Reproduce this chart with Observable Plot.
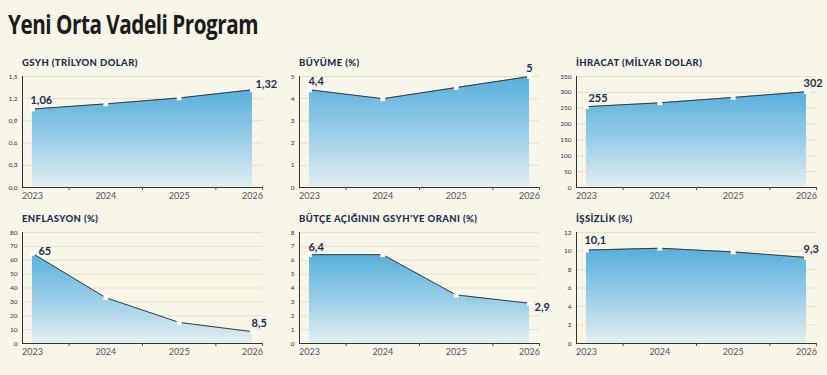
<!DOCTYPE html>
<html><head><meta charset="utf-8">
<script src="https://cdn.jsdelivr.net/npm/d3@7"></script>
<script src="https://cdn.jsdelivr.net/npm/@observablehq/plot@0.6"></script>
<style>
body{margin:0;background:#f8f5e9;}
#root{position:relative;width:827px;height:375px;background:#f8f5e9;overflow:hidden;font-family:Lato,"Open Sans",sans-serif;}
#title{position:absolute;left:8px;top:5px;font-family:"Open Sans",Roboto,sans-serif;font-weight:700;font-size:27px;color:#1b1b1b;letter-spacing:-0.6px;white-space:nowrap;transform-origin:0 50%;}
.panel{position:absolute;width:277px;height:150px;}
.ptitle{position:absolute;left:22px;top:2px;line-height:12px;font-weight:900;font-size:9.5px;color:#1f2d4d;letter-spacing:0.4px;white-space:nowrap}
.panel svg{position:absolute;left:0;top:13px;}
</style>
</head><body>
<div id="root"><div id="title">Yeni Orta Vadeli Program</div></div>
<script>
const years = [2023, 2024, 2025, 2026];
const gsyh = [1.06, 1.13, 1.21, 1.32];
const buyume = [4.4, 4.0, 4.5, 5.0];
const ihracat = [255, 267, 284, 302];
const enflasyon = [65, 33, 15.2, 8.5];
const butce = [6.4, 6.4, 3.5, 2.9];
const issizlik = [10.1, 10.3, 9.9, 9.3];
const titles = ["GSYH (TRİLYON DOLAR)", "BÜYÜME (%)", "İHRACAT (MİLYAR DOLAR)", "ENFLASYON (%)", "BÜTÇE AÇIĞININ GSYH’YE ORANI (%)", "İŞSİZLİK (%)"];
const yTicks = [
  [0, 0.3, 0.6, 0.9, 1.2, 1.5],
  [0, 1, 2, 3, 4, 5],
  [0, 50, 100, 150, 200, 250, 300, 350],
  [0, 10, 20, 30, 40, 50, 60, 70, 80],
  [0, 1, 2, 3, 4, 5, 6, 7, 8],
  [0, 2, 4, 6, 8, 10, 12]
];
const series = [gsyh, buyume, ihracat, enflasyon, butce, issizlik];

// layout / style (not data)
const pos = [[0,55],[277,55],[554,55],[0,211],[277,211],[554,211]];
const labelStyle = [
  [{dx:-2,dy:-9,a:"start"},{dx:3,dy:-5,a:"start"}],
  [{dx:-1,dy:-8,a:"start"},{dx:0,dy:-8,a:"middle"}],
  [{dx:2,dy:-8,a:"start"},{dx:-3,dy:-8,a:"start"}],
  [{dx:6,dy:-2,a:"start"},{dx:-1,dy:-8,a:"start"}],
  [{dx:-1,dy:-7,a:"start"},{dx:5,dy:4,a:"start"}],
  [{dx:-2,dy:-10,a:"start"},{dx:-3,dy:-8,a:"start"}]
];
const comma = v => String(v).replace(".", ",");
const xDom = [2022.864, 2026.136];
const root = document.getElementById("root");

// condense the main title to the reference width
const titleEl = document.getElementById("title");
const tw = titleEl.getBoundingClientRect().width;
titleEl.style.transform = `scaleX(${250 / tw})`;

series.forEach((vals, i) => {
  const data = years.map((y, j) => ({year: y, value: vals[j]}));
  const ticks = yTicks[i];
  const fmtY = i === 0 ? (d => d3.format(".1f")(d).replace(".", ",")) : (d => String(d));
  const gid = "grad" + i;
  const defs = () => {
    const g = d3.create("svg:defs");
    const lg = g.append("linearGradient").attr("id", gid).attr("x1", 0).attr("y1", 0).attr("x2", 0).attr("y2", 1);
    lg.append("stop").attr("offset", "0%").attr("stop-color", "#56afdd");
    lg.append("stop").attr("offset", "55%").attr("stop-color", "#9fd0e8");
    lg.append("stop").attr("offset", "100%").attr("stop-color", "#e3eff0");
    return g.node();
  };
  const ls = labelStyle[i];
  const txt = (d, s) => Plot.text([d], {x: "year", y: "value", text: d => comma(d.value), dx: s.dx, dy: s.dy, textAnchor: s.a, fontWeight: 700, fontSize: 11, fill: "#1f2d4d"});
  const svg = Plot.plot({
    width: 270, height: 135,
    marginTop: 8, marginBottom: 16, marginLeft: 22, marginRight: 8,
    style: {background: "transparent", overflow: "visible", fontFamily: "Lato, 'Open Sans', sans-serif"},
    x: {domain: xDom, axis: null},
    y: {domain: [0, ticks[ticks.length - 1]], axis: null},
    marks: [
      defs,
      Plot.gridY(ticks, {stroke: "#e7e0c9", strokeOpacity: 1}),
      Plot.areaY(data, {x: "year", y: "value", fill: `url(#${gid})`}),
      Plot.line(data, {x: "year", y: "value", stroke: "#3a3a3a", strokeWidth: 1}),
      Plot.dot(data, {x: "year", y: "value", symbol: "square", fill: "white", r: 2.7}),
      Plot.ruleX([xDom[0]], {stroke: "#333", strokeWidth: 1}),
      Plot.ruleY([0], {stroke: "#333", strokeWidth: 1}),
      Plot.axisY({ticks, tickSize: 0, tickPadding: 5, tickFormat: fmtY, fontSize: 6.5, fill: "#333", label: null}),
      Plot.axisX({ticks: years, tickSize: 0, tickPadding: 5, tickFormat: d => String(d), fontSize: 9, fill: "#555", label: null}),
      Plot.axisX({ticks: [2023.5, 2024.5, 2025.5, xDom[1]], tickSize: 3, tickFormat: () => "", stroke: "#555", label: null}),
      txt(data[0], ls[0]),
      txt(data[data.length - 1], ls[1])
    ]
  });
  const panel = document.createElement("div");
  panel.className = "panel";
  panel.style.left = pos[i][0] + "px";
  panel.style.top = pos[i][1] + "px";
  const t = document.createElement("div");
  t.className = "ptitle";
  t.textContent = titles[i];
  panel.appendChild(t);
  panel.appendChild(svg);
  root.appendChild(panel);
});
</script>
</body></html>
